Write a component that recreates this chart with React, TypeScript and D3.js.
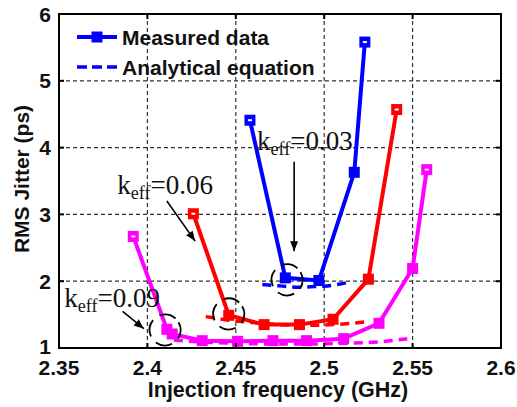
import React from "react";
import * as d3 from "d3";

const xTicks = [2.35, 2.4, 2.45, 2.5, 2.55, 2.6];
const yTicks = [1, 2, 3, 4, 5, 6];

const blueMeasured: [number, number][] = [
  [2.458, 4.41], [2.478, 2.05], [2.497, 2.01], [2.517, 3.63], [2.523, 5.58],
];
const blueAnalytical: [number, number][] = [
  [2.465, 1.95], [2.475, 1.93], [2.485, 1.91], [2.495, 1.92], [2.505, 1.94], [2.515, 1.99],
];
const redMeasured: [number, number][] = [
  [2.426, 3.01], [2.446, 1.49], [2.466, 1.35], [2.486, 1.35], [2.505, 1.43], [2.525, 2.03], [2.541, 4.57],
];
const redAnalytical: [number, number][] = [
  [2.433, 1.47], [2.445, 1.42], [2.46, 1.38], [2.475, 1.35], [2.49, 1.34], [2.505, 1.35], [2.515, 1.37], [2.523, 1.39],
];
const magentaMeasured: [number, number][] = [
  [2.392, 2.67], [2.411, 1.28], [2.414, 1.21], [2.431, 1.11], [2.451, 1.1], [2.471, 1.11], [2.49, 1.11], [2.511, 1.14], [2.531, 1.37], [2.55, 2.19], [2.558, 3.67],
];
const magentaAnalytical: [number, number][] = [
  [2.415, 1.12], [2.43, 1.09], [2.45, 1.07], [2.47, 1.06], [2.49, 1.06], [2.51, 1.07], [2.53, 1.09], [2.547, 1.14],
];

const series = [
  { color: "#0000ff", measured: blueMeasured, analytical: blueAnalytical },
  { color: "#ff0000", measured: redMeasured, analytical: redAnalytical },
  { color: "#ff00ff", measured: magentaMeasured, analytical: magentaAnalytical },
];

const annotations = [
  { label: "0.03", tx: 2.462, ty: 3.96, ax1: [2.483, 3.79], ax2: [2.483, 2.45], circle: [2.479, 2.02] },
  { label: "0.06", tx: 2.383, ty: 3.3, ax1: [2.411, 3.2], ax2: [2.427, 2.6], circle: [2.446, 1.51] },
  { label: "0.09", tx: 2.353, ty: 1.62, ax1: [2.386, 1.55], ax2: [2.398, 1.29], circle: [2.41, 1.27] },
];

const W = 517, H = 407;
const L = 59, R = 501, T = 14, B = 348;

export default function App() {
  const x = d3.scaleLinear().domain([2.35, 2.6]).range([L, R]);
  const y = d3.scaleLinear().domain([1, 6]).range([B, T]);
  const line = d3.line<[number, number]>().x(d => x(d[0])).y(d => y(d[1]));
  const curve = d3.line<[number, number]>().x(d => x(d[0])).y(d => y(d[1])).curve(d3.curveMonotoneX);
  const sans = "'Liberation Sans', Arial, sans-serif";
  const serif = "'Liberation Serif', 'Times New Roman', serif";

  return (
    <svg width={W} height={H} style={{ position: "absolute", left: 0, top: 0, background: "#fff" }}>
      <defs>
        <marker id="ah" viewBox="0 0 10 10" refX="10" refY="5" markerWidth="10" markerHeight="10" markerUnits="userSpaceOnUse" orient="auto">
          <path d="M0,1 L10,5 L0,9 Z" fill="#000" />
        </marker>
        <clipPath id="plot"><rect x={L} y={T} width={R - L} height={B - T} /></clipPath>
      </defs>
      <rect x={0} y={0} width={W} height={H} fill="#fff" />
      {xTicks.slice(1, -1).map(t => (
        <line key={"gx" + t} x1={x(t)} x2={x(t)} y1={T} y2={B} stroke="#333" strokeWidth={1.2} strokeDasharray="4 3" />
      ))}
      {yTicks.slice(1, -1).map(t => (
        <line key={"gy" + t} x1={L} x2={R} y1={y(t)} y2={y(t)} stroke="#333" strokeWidth={1.2} strokeDasharray="4 3" />
      ))}
      <g clipPath="url(#plot)">
        {series.map((s, i) => (
          <g key={"s" + i}>
            <path d={curve(s.analytical) || ""} fill="none" stroke={s.color} strokeWidth={3.5} strokeDasharray="9 6" />
            <path d={line(s.measured) || ""} fill="none" stroke={s.color} strokeWidth={4} strokeLinejoin="round" />
            {s.measured.map((d, j) => {
              const end = j === 0 || j === s.measured.length - 1;
              return (
                <g key={j}>
                  <rect x={x(d[0]) - 5.5} y={y(d[1]) - 5.5} width={11} height={11} fill={s.color} />
                  {end && <rect x={x(d[0]) - 2} y={y(d[1]) - 1} width={4} height={2} fill="#fff" />}
                </g>
              );
            })}
          </g>
        ))}
      </g>
      {annotations.map((a, i) => (
        <g key={"a" + i}>
          <text x={x(a.tx)} y={y(a.ty)} fontFamily={serif} fontSize={27} fill="#111">
            k<tspan fontSize={18} dy={5}>eff</tspan><tspan dy={-5}>={a.label}</tspan>
          </text>
          <line x1={x(a.ax1[0])} y1={y(a.ax1[1])} x2={x(a.ax2[0])} y2={y(a.ax2[1])} stroke="#000" strokeWidth={1.6} markerEnd="url(#ah)" />
          <circle cx={x(a.circle[0])} cy={y(a.circle[1])} r={15.5} fill="none" stroke="#000" strokeWidth={1.8} strokeDasharray="17 8" transform={`rotate(-30 ${x(a.circle[0])} ${y(a.circle[1])})`} />
        </g>
      ))}
      <rect x={L} y={T} width={R - L} height={B - T} fill="none" stroke="#000" strokeWidth={2} />
      {xTicks.slice(1, -1).map(t => (
        <g key={"tx" + t}>
          <line x1={x(t)} x2={x(t)} y1={B} y2={B - 5} stroke="#000" strokeWidth={2} />
          <line x1={x(t)} x2={x(t)} y1={T} y2={T + 5} stroke="#000" strokeWidth={2} />
        </g>
      ))}
      {yTicks.slice(1, -1).map(t => (
        <g key={"ty" + t}>
          <line x1={L} x2={L + 5} y1={y(t)} y2={y(t)} stroke="#000" strokeWidth={2} />
          <line x1={R} x2={R - 5} y1={y(t)} y2={y(t)} stroke="#000" strokeWidth={2} />
        </g>
      ))}
      {xTicks.map(t => (
        <text key={"lx" + t} x={x(t)} y={375} textAnchor="middle" fontFamily={sans} fontWeight="bold" fontSize={21} fill="#111">
          {d3.format(".2~f")(t)}
        </text>
      ))}
      {yTicks.map(t => (
        <text key={"ly" + t} x={51} y={y(t) + (t === 1 ? 6 : 7.5)} textAnchor="end" fontFamily={sans} fontWeight="bold" fontSize={21} fill="#111">
          {t}
        </text>
      ))}
      <text x={278} y={397} textAnchor="middle" fontFamily={sans} fontWeight="bold" fontSize={21.5} fill="#111">
        Injection frequency (GHz)
      </text>
      <text transform="translate(29,179) rotate(-90)" textAnchor="middle" fontFamily={sans} fontWeight="bold" fontSize={21} fill="#111">
        RMS Jitter (ps)
      </text>
      <line x1={77} x2={117} y1={37} y2={37} stroke="#0000ff" strokeWidth={4} />
      <rect x={91.5} y={31.5} width={11} height={11} fill="#0000ff" />
      <text x={122} y={45} fontFamily={sans} fontWeight="bold" fontSize={21} fill="#111">Measured data</text>
      <line x1={77} x2={117} y1={67} y2={67} stroke="#0000ff" strokeWidth={3.5} strokeDasharray="10 5" />
      <text x={122} y={75} fontFamily={sans} fontWeight="bold" fontSize={21} fill="#111">Analytical equation</text>
    </svg>
  );
}
